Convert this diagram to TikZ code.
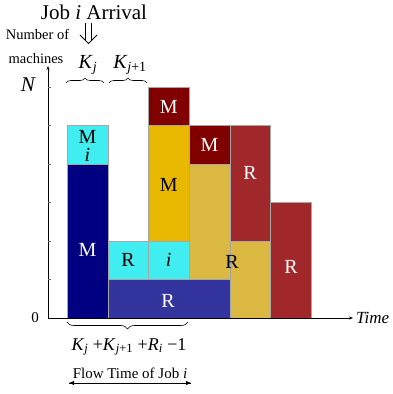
\documentclass[tikz,border=0pt]{standalone}
\usepackage{fontspec}
\setmainfont{Liberation Serif}
\usetikzlibrary{arrows.meta,decorations.pathreplacing}
\definecolor{navyb}{RGB}{0,0,128}
\definecolor{blueR}{RGB}{52,52,158}
\definecolor{cyanb}{RGB}{64,238,242}
\definecolor{goldb}{RGB}{232,184,0}
\definecolor{yelb}{RGB}{218,184,66}
\definecolor{dredb}{RGB}{128,0,0}
\definecolor{bredb}{RGB}{160,40,42}
\begin{document}
\begin{tikzpicture}[x=1pt,y=1pt,
  blk/.style={draw=black!35, line width=0.4pt},
  lblw/.style={text=white, font=\fontsize{20}{22}\selectfont, inner sep=0pt},
  lbld/.style={text=black, font=\fontsize{20}{22}\selectfont, inner sep=0pt},
  axisline/.style={line width=0.6pt, -{Stealth[length=4pt,width=3pt]}},
  brc/.style={decorate, decoration={brace, amplitude=5pt}, line width=0.6pt},
  txt/.style={inner sep=0pt}]
\useasboundingbox (0,0) rectangle (392,394);
\def\xA{67}\def\xB{107.7}\def\xC{148.4}\def\xD{189.1}\def\xE{229.8}\def\xF{270.5}\def\xG{311.2}
\def\yA{76}\def\yB{114.5}\def\yC{153}\def\yD{191.5}\def\yE{230}\def\yF{268.5}\def\yG{307}
% blocks
\draw[blk, fill=navyb] (\xA,\yA) rectangle (\xB,\yE);
\draw[blk, fill=cyanb] (\xA,\yE) rectangle (\xB,\yF);
\draw[blk, fill=blueR] (\xB,\yA) rectangle (\xE,\yB);
\draw[blk, fill=cyanb] (\xB,\yB) rectangle (\xD,\yC);
\draw[blk] (\xC,\yB) -- (\xC,\yC);
\draw[blk, fill=goldb] (\xC,\yC) rectangle (\xD,\yF);
\draw[blk, fill=dredb] (\xC,\yF) rectangle (\xD,\yG);
\draw[blk, fill=yelb] (\xD,\yB) rectangle (\xE,\yE);
\draw[blk, fill=dredb] (\xD,\yE) rectangle (\xE,\yF);
\draw[blk, fill=yelb] (\xE,\yA) rectangle (\xF,\yC);
\draw[blk, fill=bredb] (\xE,\yC) rectangle (\xF,\yF);
\draw[blk, fill=bredb] (\xF,\yA) rectangle (\xG,\yD);
% block labels
\node[lblw] (m1) at (87.4,144) {M};
\node[lbld] (m2) at (87.4,257) {M};
\node[lbld] (i1) at (87.4,239) {\textit{i}};
\node[lblw] (r1) at (168,93) {R};
\node[lbld] (r2) at (128,134) {R};
\node[lbld] (i2) at (168.7,134) {\textit{i}};
\node[lbld] (m3) at (168.7,209) {M};
\node[lblw] (m4) at (168.7,287) {M};
\node[lblw] (m5) at (209.4,249) {M};
\node[lbld] (r3) at (232,132) {R};
\node[lblw] (r4) at (250,221) {R};
\node[lblw] (r5) at (291,127) {R};
% axes
\coordinate (orig) at (48,76);
\coordinate (ytop) at (48,328);
\coordinate (xend) at (353,76);
\draw[axisline] (orig) -- (ytop);
\draw[axisline] (orig) -- (xend);
\foreach \yy in {\yB,\yC,\yD,\yE,\yF,\yG} \draw[line width=0.4pt, black!60] (48,\yy) -- (51,\yy);
\node[txt, font=\fontsize{21}{24}\selectfont\itshape] (nlab) at (28,309) {N};
\node[txt, font=\fontsize{15}{18}\selectfont] (zero) at (35,76) {0};
\node[txt, anchor=west, font=\fontsize{17}{20}\selectfont\itshape] (time) at (356,76) {Time};
% top labels
\node[txt, font=\fontsize{21}{24}\selectfont] (arr) at (94,382) {Job \textit{i} Arrival};
\coordinate (dL1) at (85.5,371);
\coordinate (dL2) at (85.5,354);
\coordinate (dR1) at (91.5,371);
\coordinate (dR2) at (91.5,354);
\coordinate (hL) at (80,359);
\coordinate (hT) at (88.5,350.5);
\coordinate (hR) at (97,359);
\draw[line width=0.8pt] (dL1) -- (dL2);
\draw[line width=0.8pt] (dR1) -- (dR2);
\draw[line width=0.8pt, line join=miter] (hL) -- (hT) -- (hR);
\node[txt, font=\fontsize{14.5}{16}\selectfont] (num) at (37.5,360) {Number of};
\node[txt, font=\fontsize{14.5}{16}\selectfont] (mach) at (36,335) {machines};
\node[txt, font=\fontsize{20}{24}\selectfont] (kj) at (88,329) {\textit{K}\textsubscript{\textit{j}}};
\node[txt, font=\fontsize{20}{24}\selectfont] (kj1) at (130,329) {\textit{K}\textsubscript{\textit{j}+1}};
\coordinate (b1l) at (66,311);
\coordinate (b1r) at (104,311);
\coordinate (b2l) at (109,311);
\coordinate (b2r) at (147,311);
\draw[brc] (b1l) -- (b1r);
\draw[brc] (b2l) -- (b2r);
% bottom labels
\coordinate (b3l) at (67,72);
\coordinate (b3r) at (188,72);
\draw[brc, decoration={brace, amplitude=7pt}] (b3r) -- (b3l);
\node[txt, font=\fontsize{18}{22}\selectfont] (form) at (129,47) {\textit{K}\textsubscript{\textit{j}} +\textit{K}\textsubscript{\textit{j}+1} +\textit{R}\textsubscript{\textit{i}} −1};
\node[txt, font=\fontsize{15}{18}\selectfont] (flow) at (130,21) {Flow Time of Job \textit{i}};
\coordinate (fl) at (69,11);
\coordinate (fr) at (191,11);
\draw[black, line width=0.9pt] (fl) -- (fr);
\fill[black] (fl) -- ++(5,2) -- ++(0,-4) -- cycle;
\fill[black] (fr) -- ++(-5,2) -- ++(0,-4) -- cycle;
\end{tikzpicture}
\end{document}
